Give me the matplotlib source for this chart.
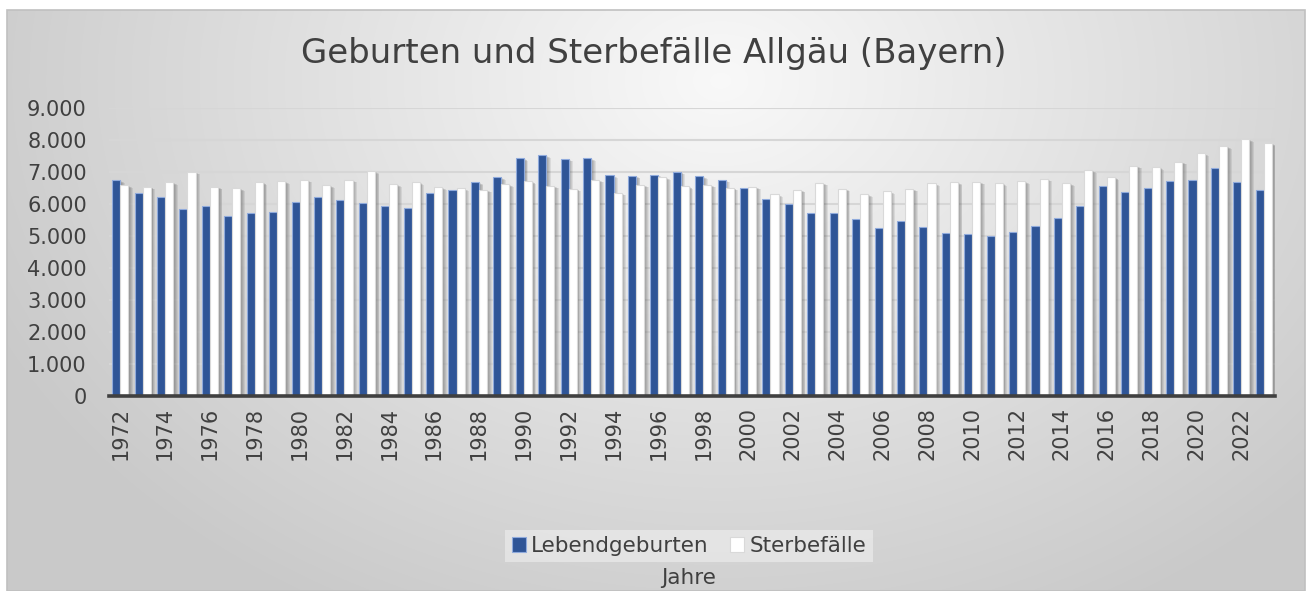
import numpy as np
import matplotlib
matplotlib.use("Agg")
import matplotlib.pyplot as plt
from matplotlib.patches import Rectangle

years = list(range(1972, 2024))
lebendgeburten = [6750, 6355, 6220, 5857, 5950, 5628, 5732, 5742, 6054, 6231,
                  6116, 6023, 5929, 5867, 6345, 6449, 6687, 6843, 7435, 7529,
                  7414, 7435, 6906, 6885, 6916, 7009, 6874, 6760, 6500, 6158,
                  5992, 5711, 5732, 5524, 5244, 5462, 5296, 5109, 5067, 4995,
                  5119, 5327, 5556, 5940, 6552, 6386, 6500, 6729, 6750, 7134,
                  6698, 6428]
sterbefaelle = [6584, 6542, 6687, 7009, 6542, 6500, 6687, 6708, 6760, 6584,
                6760, 7020, 6625, 6677, 6521, 6490, 6438, 6625, 6708, 6563,
                6469, 6760, 6345, 6594, 6843, 6552, 6594, 6511, 6532, 6303,
                6449, 6667, 6480, 6303, 6397, 6469, 6646, 6677, 6698, 6646,
                6708, 6791, 6646, 7051, 6833, 7196, 7155, 7321, 7580, 7809,
                8027, 7902]
yticks = [0, 1000, 2000, 3000, 4000, 5000, 6000, 7000, 8000, 9000]
ytick_labels = ["0", "1.000", "2.000", "3.000", "4.000", "5.000", "6.000",
                "7.000", "8.000", "9.000"]
title = "Geburten und Sterbefälle Allgäu (Bayern)"
series_names = ["Lebendgeburten", "Sterbefälle"]
xlabel = "Jahre"

W, H = 1311, 591
plt.rcParams['font.family'] = ['DejaVu Sans']
fig = plt.figure(figsize=(W / 100, H / 100), dpi=100)
fig.patch.set_facecolor("white")

# chart area background with radial gradient
cx0, cy0, cx1, cy1 = 7, 10, 1305, 591
bg = fig.add_axes([cx0 / W, 1 - cy1 / H, (cx1 - cx0) / W, (cy1 - cy0) / H], zorder=-10)
gx, gy = np.meshgrid(np.linspace(0, 1, 400), np.linspace(0, 1, 200))
r = np.sqrt(((gx - 0.55) / 0.62) ** 2 + ((gy - 0.12) / 1.05) ** 2)
r = np.clip(r, 0, 1)
c = 0.975 - (0.975 - 0.79) * r
img = np.dstack([c, c, c])
bg.imshow(img, aspect="auto", extent=[0, 1, 1, 0], interpolation="bilinear")
bg.set_xlim(0, 1); bg.set_ylim(1, 0)
bg.axis("off")
bg.add_patch(Rectangle((0, 0), 1, 1, fill=False, edgecolor="#c0c0c0", lw=1.2,
                       transform=bg.transAxes, clip_on=False))

# plot axes
pl, pr, pt, pb = 109, 1275, 108, 396
ax = fig.add_axes([pl / W, 1 - pb / H, (pr - pl) / W, (pb - pt) / H])
ax.set_facecolor("none")
n = len(years)
x = np.arange(n)
ax.set_xlim(-0.5, n - 0.5)
ax.set_ylim(0, 9000)

bw = 0.36
off = 0.18
blue = "#2F5597"
px_x = n / (pr - pl)          # data units per pixel in x
px_y = 9000 / (pb - pt)       # data units per pixel in y

# shadows
for vals, o in ((lebendgeburten, -off), (sterbefaelle, off)):
    for k in range(1, 6):
        ax.bar(x + o + k * px_x * 0.9, np.array(vals) - k * px_y * 0.5, width=bw,
               color="black", alpha=0.075, linewidth=0, zorder=2)

ax.bar(x - off, lebendgeburten, width=bw, color=blue, edgecolor="#8FAADC",
       linewidth=0.8, zorder=3, label=series_names[0])
ax.bar(x + off, sterbefaelle, width=bw, color="white", edgecolor="#d9d9d9",
       linewidth=0.8, zorder=3, label=series_names[1])

ax.set_yticks(yticks)
ax.set_yticklabels(ytick_labels)
ax.yaxis.grid(True, color="#d6d6d6", linewidth=1.5, zorder=1)
ax.set_axisbelow(True)
ax.set_xticks(x[::2])
ax.set_xticklabels([str(y) for y in years[::2]], rotation=90)
ax.tick_params(axis="both", length=0, colors="#404040", labelsize=15)
ax.tick_params(axis="y", pad=16)
ax.tick_params(axis="x", pad=8)
for s in ("top", "right", "left"):
    ax.spines[s].set_visible(False)
ax.spines["bottom"].set_color("#404040")
ax.spines["bottom"].set_linewidth(2.6)
ax.spines["bottom"].set_zorder(5)

fig.text(654 / W, 1 - 53 / H, title, ha="center", va="center", fontsize=24.5,
         color="#404040")

leg = fig.legend(loc="center", bbox_to_anchor=(689 / W, 1 - 546 / H), ncol=2,
                 frameon=True, fontsize=15.5, handlelength=0.65, handleheight=0.65,
                 handletextpad=0.25, columnspacing=1.0, borderpad=0.3,
                 fancybox=False)
leg.get_frame().set_facecolor("#efefef")
leg.get_frame().set_alpha(0.6)
leg.get_frame().set_edgecolor("none")
for t in leg.get_texts():
    t.set_color("#404040")

fig.text(689 / W, 1 - 578 / H, xlabel, ha="center", va="center", fontsize=15.5,
         color="#404040")

fig.savefig("out.png", dpi=100)
